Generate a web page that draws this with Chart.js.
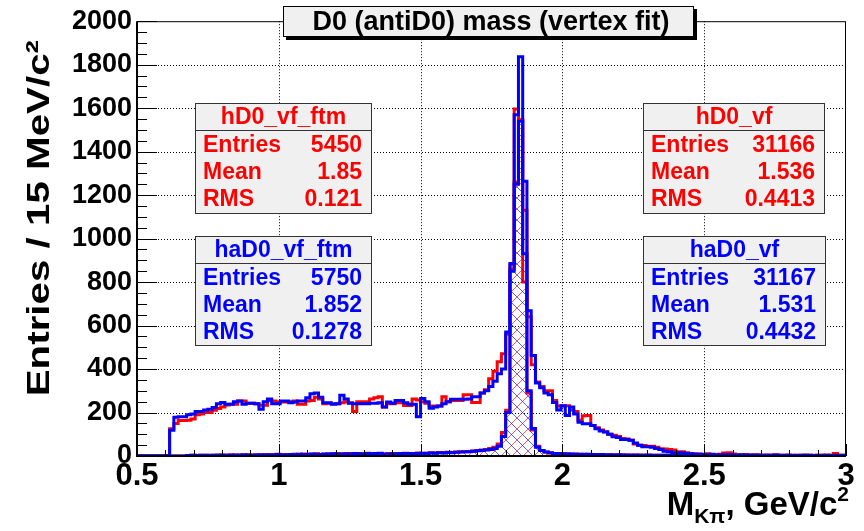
<!DOCTYPE html>
<html>
<head>
<meta charset="utf-8">
<script src="https://cdn.jsdelivr.net/npm/chart.js@4.4.1/dist/chart.umd.min.js"></script>
<style>
  html, body { margin: 0; padding: 0; background: #fff; }
  canvas { display: block; }
</style>
</head>
<body>
<canvas id="grafico" width="864" height="531"></canvas>
<script>
// bins: 15 MeV wide, first bin starts at 0.495 GeV
const BIN_START = 0.495;
const BIN_WIDTH = 0.015;

// haD0_vf (blue, all candidates)
const haD0_vf = [
  0,0,0,0,0,0,0,0,0,
  118,178,181,181,190,193,205,205,212,215,
  223,240,246,238,238,250,253,238,243,243,
  240,215,250,262,240,240,253,253,245,248,
  253,253,268,286,290,270,245,245,238,240,
  280,262,243,240,240,240,240,243,243,245,
  225,248,243,255,255,245,238,238,180,265,
  250,220,225,230,240,250,261,261,261,261,
  262,273,273,290,300,320,344,378,400,570,
  885,1570,1837,1264,668,462,336,314,290,282,
  246,212,231,186,225,193,155,148,148,140,
  125,115,110,100,88,85,76,76,72,60,
  49,42,42,40,35,30,22,20,15,15,
  14,12,10,8,8,7,6,8,5,6,
  5,7,4,5,6,4,5,3,5,4,
  4,3,5,4,3,4,2,4,3,3,
  4,2,3,3,2,4,3,3
];

// hD0_vf (red, all candidates)
const hD0_vf = [
  0,0,0,0,0,0,0,0,0,
  125,150,163,163,165,170,190,193,200,200,
  210,218,225,235,238,238,253,253,243,243,
  240,233,233,255,253,248,248,248,250,253,
  238,238,253,255,270,262,240,243,240,240,
  245,250,245,205,250,250,250,262,268,273,
  225,240,240,245,245,232,232,262,258,250,
  243,230,230,230,272,250,255,255,255,282,
  282,246,246,290,305,355,390,434,470,560,
  880,1596,1545,1130,640,420,340,320,300,300,
  255,230,230,231,212,205,165,185,186,140,
  130,120,112,100,95,90,80,78,72,55,
  50,48,45,45,40,33,32,30,28,20,
  20,15,12,10,9,8,10,7,6,8,
  14,15,9,6,5,7,4,6,5,3,
  5,4,6,3,4,5,3,2,4,5,
  3,2,4,3,5,2,12,4
];

// haD0_vf_ftm (blue, hatched)
const haD0_vf_ftm = [
  0,0,0,0,0,0,0,0,0,
  0,0,0,0,2,3,2,4,3,3,
  4,3,5,4,3,5,4,6,5,4,
  5,6,4,6,5,7,6,5,7,6,
  8,6,7,9,8,7,9,8,10,8,
  9,10,8,11,10,9,12,10,11,13,
  8,9,10,9,11,10,12,11,12,13,
  12,14,13,15,14,16,15,17,18,19,
  20,22,24,26,28,30,35,45,90,200,
  850,1250,1540,930,300,126,40,25,18,15,
  12,11,10,9,9,8,8,7,8,7,
  6,7,6,6,5,6,5,5,4,5,
  4,4,5,3,4,3,4,3,3,4,
  3,2,3,3,2,3,2,2,3,2,
  2,3,2,2,1,2,2,1,2,2,
  1,2,1,2,1,1,2,1,1,2,
  1,1,2,1,1,1,1,1
];

// hD0_vf_ftm (red, hatched)
const hD0_vf_ftm = [
  0,0,0,0,0,0,0,0,0,
  0,0,0,0,1,3,2,3,4,2,
  3,5,4,3,6,4,5,4,6,5,
  6,4,7,5,6,8,5,7,6,8,
  7,9,6,8,10,7,8,10,9,11,
  8,10,12,9,11,10,13,11,12,10,
  9,11,10,12,10,13,12,11,14,12,
  13,15,14,16,15,17,16,18,19,20,
  21,23,25,27,30,34,40,55,108,210,
  860,1260,1545,800,290,120,45,25,18,14,
  11,12,9,10,8,9,7,8,7,6,
  7,6,5,6,5,5,6,4,5,4,
  5,3,4,4,3,4,3,3,4,2,
  3,2,3,2,3,2,2,3,1,2,
  2,2,1,2,2,1,2,2,1,1,
  2,1,1,2,1,1,1,2,1,1,
  1,1,1,1,2,1,1,1
];

const xTicks = [0.5, 1, 1.5, 2, 2.5, 3];
const yTicks = [0, 200, 400, 600, 800, 1000, 1200, 1400, 1600, 1800, 2000];
const xMinorStep = 0.1;
const yMinorStep = 50;

const titulo = "D0 (antiD0) mass (vertex fit)";
const statNames = ["hD0_vf_ftm", "haD0_vf_ftm", "hD0_vf", "haD0_vf"];
const statEntries = ["5450", "5750", "31166", "31167"];
const statMean = ["1.85", "1.852", "1.536", "1.531"];
const statRms = ["0.121", "0.1278", "0.4413", "0.4432"];

const RED = "#ff0000";
const BLUE = "#0000ff";
const FONT = "'Liberation Sans', Arial, Helvetica, sans-serif";

function toSteps(values) {
  const pts = values.map((v, i) => ({ x: +(BIN_START + i * BIN_WIDTH).toFixed(3), y: v }));
  pts.push({ x: +(BIN_START + values.length * BIN_WIDTH).toFixed(3), y: values[values.length - 1] });
  return pts;
}

const ctx = document.getElementById("grafico").getContext("2d");

function hatch(color, dir) {
  const n = 11;
  const c = document.createElement("canvas");
  c.width = n; c.height = n;
  const g = c.getContext("2d");
  g.strokeStyle = color;
  g.globalAlpha = 0.8;
  g.lineWidth = 0.8;
  g.beginPath();
  if (dir > 0) {
    g.moveTo(-1, n + 1); g.lineTo(n + 1, -1);
  } else {
    g.moveTo(-1, -1); g.lineTo(n + 1, n + 1);
  }
  g.stroke();
  return ctx.createPattern(c, "repeat");
}

// stat box layout [left, top, right, bottom], colour
const statLayout = [
  { box: [195, 103, 372, 214], color: RED },
  { box: [195, 236, 372, 346], color: BLUE },
  { box: [643, 103, 825, 214], color: RED },
  { box: [643, 236, 826, 346], color: BLUE }
];

const rootPlugin = {
  id: "rootStyle",
  beforeDatasetsDraw(chart) {
    const { ctx, chartArea: a, scales: { x, y } } = chart;
    ctx.save();
    ctx.strokeStyle = "#000";
    ctx.lineWidth = 1;
    ctx.setLineDash([1, 2]);
    ctx.beginPath();
    xTicks.forEach(v => {
      const px = Math.round(x.getPixelForValue(v)) + 0.5;
      if (px <= a.left + 1 || px >= a.right - 1) return;
      ctx.moveTo(px, a.top); ctx.lineTo(px, a.bottom);
    });
    yTicks.forEach(v => {
      const py = Math.round(y.getPixelForValue(v)) + 0.5;
      if (py <= a.top + 1 || py >= a.bottom - 1) return;
      ctx.moveTo(a.left, py); ctx.lineTo(a.right, py);
    });
    ctx.stroke();
    ctx.restore();
  },
  afterDatasetsDraw(chart) {
    const { ctx, chartArea: a, scales: { x, y } } = chart;
    ctx.save();
    ctx.strokeStyle = "#000";
    ctx.lineWidth = 1;
    ctx.beginPath();
    // y ticks (inside, on the left)
    for (let v = y.min; v <= y.max + 1e-6; v += yMinorStep) {
      const py = Math.round(y.getPixelForValue(v)) + 0.5;
      const major = yTicks.includes(Math.round(v));
      ctx.moveTo(a.left, py); ctx.lineTo(a.left + (major ? 20 : 10), py);
    }
    // x ticks (inside, at the bottom)
    for (let v = x.min; v <= x.max + 1e-6; v += xMinorStep) {
      const px = Math.round(x.getPixelForValue(v)) + 0.5;
      const major = xTicks.some(t => Math.abs(t - v) < 1e-6);
      ctx.moveTo(px, a.bottom); ctx.lineTo(px, a.bottom - (major ? 12 : 6));
    }
    ctx.stroke();
    // frame
    ctx.strokeRect(a.left + 0.5, a.top + 0.5, a.right - a.left - 1, a.bottom - a.top - 1);
    ctx.lineWidth = 2;
    ctx.beginPath();
    ctx.moveTo(a.left, a.top); ctx.lineTo(a.left, a.bottom); ctx.lineTo(a.right, a.bottom);
    ctx.stroke();
    ctx.restore();
  },
  afterDraw(chart) {
    const { ctx } = chart;
    ctx.save();

    // title box with shadow
    ctx.fillStyle = "#000";
    ctx.fillRect(286, 9, 411, 31);
    ctx.fillStyle = "#f0f0f0";
    ctx.fillRect(283, 6, 411, 31);
    ctx.strokeStyle = "#000";
    ctx.lineWidth = 1;
    ctx.strokeRect(283.5, 6.5, 410, 30);
    ctx.fillStyle = "#000";
    ctx.font = `bold 27px ${FONT}`;
    ctx.textAlign = "center";
    ctx.textBaseline = "middle";
    ctx.fillText(titulo, 491, 23);

    // stat boxes
    statLayout.forEach((s, i) => {
      const [l, t, r, b] = s.box;
      ctx.fillStyle = "#f0f0f0";
      ctx.fillRect(l, t, r - l, b - t);
      ctx.strokeStyle = "#333";
      ctx.lineWidth = 1;
      ctx.strokeRect(l + 0.5, t + 0.5, r - l - 1, b - t - 1);
      ctx.beginPath();
      ctx.moveTo(l, t + 27.5); ctx.lineTo(r, t + 27.5);
      ctx.stroke();
      ctx.fillStyle = s.color;
      ctx.font = `bold 23px ${FONT}`;
      ctx.textBaseline = "middle";
      ctx.textAlign = "center";
      ctx.fillText(statNames[i], (l + r) / 2, t + 15);
      const rows = [["Entries", statEntries[i]], ["Mean", statMean[i]], ["RMS", statRms[i]]];
      rows.forEach((row, j) => {
        const yy = t + 43 + j * 27;
        ctx.textAlign = "left";
        ctx.fillText(row[0], l + 8, yy);
        ctx.textAlign = "right";
        ctx.fillText(row[1], r - 10, yy);
      });
    });

    // y axis title (stretched along its length, as in the original)
    ctx.fillStyle = "#000";
    ctx.save();
    ctx.translate(49, 40);
    ctx.rotate(-Math.PI / 2);
    ctx.scale(1.26, 1);
    ctx.font = `bold 32px ${FONT}`;
    ctx.textAlign = "right";
    ctx.textBaseline = "alphabetic";
    ctx.fillText("Entries / 15 MeV/c\u00b2", 0, 0);
    ctx.restore();

    // x axis title: M_{K pi}, GeV/c^2
    const big = `bold 33px ${FONT}`;
    const small = `bold 21px ${FONT}`;
    const parts = [
      { t: "M", f: big, dy: 0 },
      { t: "K\u03c0", f: small, dy: 8 },
      { t: ", GeV/c", f: big, dy: 0 },
      { t: "2", f: small, dy: -14 }
    ];
    let w = 0;
    parts.forEach(p => { ctx.font = p.f; w += ctx.measureText(p.t).width; });
    let xx = 849 - w;
    ctx.textAlign = "left";
    ctx.textBaseline = "alphabetic";
    parts.forEach(p => {
      ctx.font = p.f;
      ctx.fillText(p.t, xx, 515 + p.dy);
      xx += ctx.measureText(p.t).width;
    });

    ctx.restore();
  }
};

new Chart(ctx, {
  type: "line",
  data: {
    datasets: [
      { label: "haD0_vf", data: toSteps(haD0_vf), borderColor: BLUE, borderWidth: 3, fill: false },
      { label: "haD0_vf_ftm", data: toSteps(haD0_vf_ftm), borderColor: BLUE, borderWidth: 3,
        fill: "origin", backgroundColor: hatch(BLUE, -1) },
      { label: "hD0_vf_ftm", data: toSteps(hD0_vf_ftm), borderColor: RED, borderWidth: 3,
        fill: "origin", backgroundColor: hatch(RED, 1) },
      { label: "hD0_vf", data: toSteps(hD0_vf), borderColor: RED, borderWidth: 3, fill: false }
    ]
  },
  options: {
    responsive: false,
    animation: false,
    events: [],
    layout: { padding: { top: 15, right: 18, left: 0, bottom: 0 } },
    elements: {
      line: { stepped: "after", tension: 0, borderJoinStyle: "miter" },
      point: { radius: 0 }
    },
    plugins: { legend: { display: false }, tooltip: { enabled: false } },
    scales: {
      x: {
        type: "linear",
        min: 0.5,
        max: 3,
        afterBuildTicks: s => { s.ticks = xTicks.map(v => ({ value: v })); },
        afterFit: s => { s.height = 75; },
        grid: { display: false, drawTicks: false },
        border: { display: false },
        ticks: {
          autoSkip: false,
          maxRotation: 0,
          padding: 2,
          color: "#000",
          font: { family: FONT, size: 31, weight: "bold" },
          callback: v => String(+v)
        }
      },
      y: {
        type: "linear",
        min: 0,
        max: 2000,
        afterBuildTicks: s => { s.ticks = yTicks.map(v => ({ value: v })); },
        afterFit: s => { s.width = 137; },
        grid: { display: false, drawTicks: false },
        border: { display: false },
        ticks: {
          autoSkip: false,
          padding: 5,
          color: "#000",
          font: { family: FONT, size: 27, weight: "bold" },
          callback: v => String(v)
        }
      }
    }
  },
  plugins: [rootPlugin]
});
</script>
</body>
</html>
